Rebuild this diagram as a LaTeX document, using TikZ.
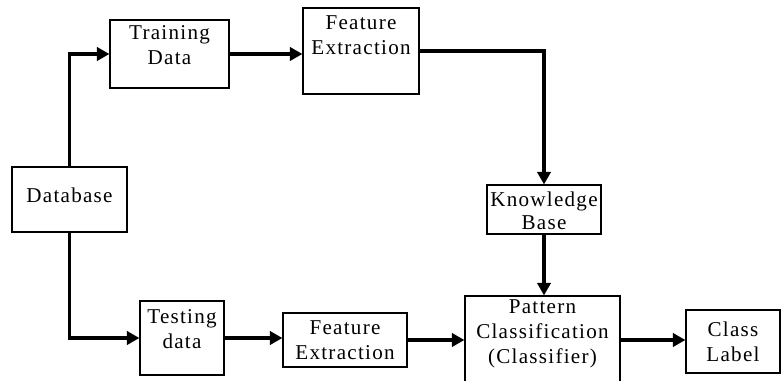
\documentclass[tikz,border=0pt]{standalone}
\usepackage{fontspec}
\setmainfont{Liberation Serif}[LetterSpace=6]
\usetikzlibrary{positioning,arrows.meta}

\begin{document}
\begin{tikzpicture}
	% Define styles
	\tikzstyle{block} = [rectangle, draw, line width=0.8pt, inner sep=0pt]
	\tikzstyle{blocktext} = [align=center, inner sep=0pt,
	font=\fontsize{15pt}{18pt}\selectfont]
	\tikzstyle{arrow} = [line width=2.6pt, -{Triangle[length=9pt,width=9.5pt]}]
	
	% Page size
	\clip (0,0) rectangle (19.525,-9.5);
	\useasboundingbox (0,0) rectangle (19.525,-9.5);
	
	% Place boxes
	\node [block, minimum width=2.875cm, minimum height=1.625cm] (database) at (1.7375,-4.9875) {};
	\node [block, minimum width=2.975cm, minimum height=1.7cm] (training) at (4.2375,-1.35) {};
	\node [block, minimum width=2.9cm, minimum height=2.15cm] (trainfeature) at (9.025,-1.275) {};
	\node [block, minimum width=2.85cm, minimum height=1.225cm] (knowledge) at (13.6,-5.2375) {};
	\node [block, minimum width=2.1cm, minimum height=1.85cm] (testing) at (4.55,-8.45) {};
	\node [block, minimum width=3.1cm, minimum height=1.35cm] (testfeature) at (8.625,-8.5) {};
	\node [block, minimum width=3.875cm, minimum height=2.2cm] (classifier) at (13.5625,-8.5) {};
	\node [block, minimum width=2.35cm, minimum height=1.575cm] (classlabel) at (18.325,-8.5375) {};
	
	% Box texts
	\node [blocktext] (databasetext) at (1.7375,-4.88) {Database};
	\node [blocktext] (trainingtext) at (4.2375,-1.125) {Training\\Data};
	\node [blocktext] (trainfeaturetext) at (9.025,-0.875) {Feature\\Extraction};
	\node [blocktext, font=\fontsize{15pt}{16pt}\selectfont] (knowledgetext) at (13.6,-5.27) {Knowledge\\Base};
	\node [blocktext] (testingtext) at (4.55,-8.225) {Testing\\data};
	\node [blocktext] (testfeaturetext) at (8.625,-8.5) {Feature\\Extraction};
	\node [blocktext] (classifiertext) at (13.5625,-8.35) {Pattern\\Classification\\(Classifier)};
	\node [blocktext] (classlabeltext) at (18.325,-8.5375) {Class\\Label};
	
	% Draw arrows
	\draw [arrow] (database.north) |- (training.west);
	\draw [arrow] (training.east) -- (training.east -| trainfeature.west);
	\draw [arrow] (trainfeature.east) -| (knowledge.north);
	\draw [arrow] (database.south) |- (testing.west);
	\draw [arrow] (testing.east) -- (testing.east -| testfeature.west);
	\draw [arrow] (testfeature.east) -- (classifier.west);
	\draw [arrow] (knowledge.south) -- (knowledge.south |- classifier.north);
	\draw [arrow] (classifier.east) -- (classifier.east -| classlabel.west);
\end{tikzpicture}
\end{document}
